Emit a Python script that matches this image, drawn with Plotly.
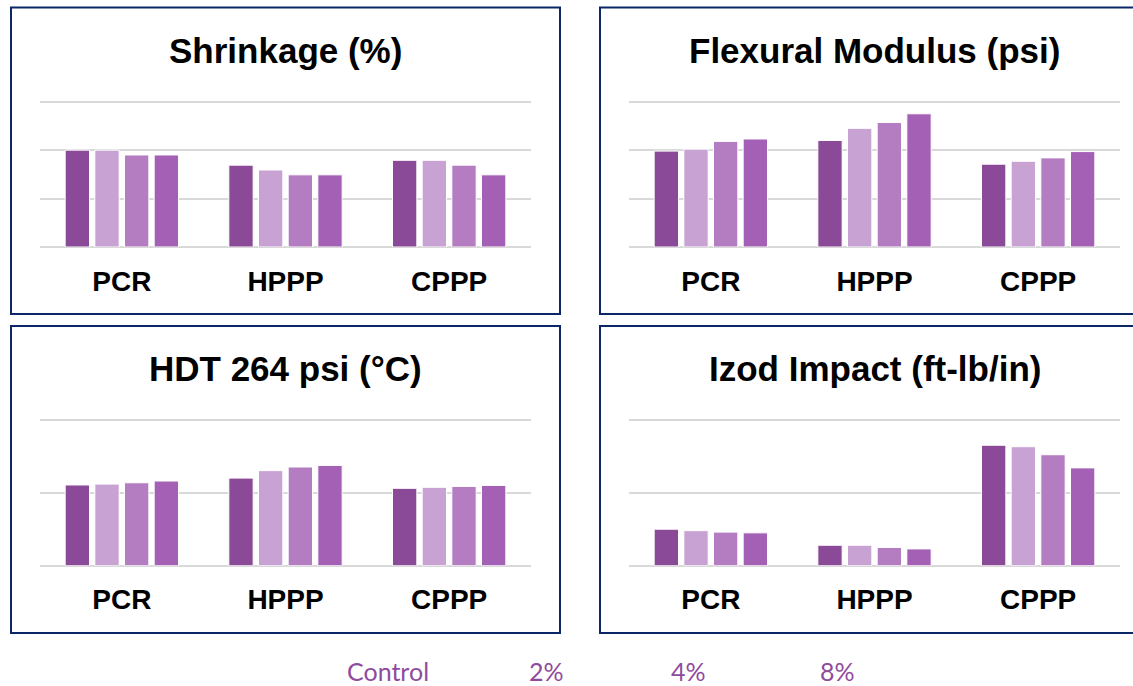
import plotly.graph_objects as go

categories = ["PCR", "HPPP", "CPPP"]
series_names = ["Control", "2%", "4%", "8%"]
series_colors = ["#8B4A98", "#C8A2D2", "#B47CC1", "#A360B5"]

panel_titles = ["Shrinkage (%)", "Flexural Modulus (psi)", "HDT 264 psi (°C)", "Izod Impact (ft-lb/in)"]

# Shrinkage (%) : series values per category
shrink_control = [1.00, 0.845, 0.895]
shrink_2 = [1.00, 0.795, 0.895]
shrink_4 = [0.95, 0.745, 0.845]
shrink_8 = [0.95, 0.745, 0.745]

# Flexural Modulus (psi)
flex_control = [198000, 220000, 171000]
flex_2 = [202000, 245000, 177000]
flex_4 = [218000, 257000, 184000]
flex_8 = [223000, 275000, 197000]

# HDT 264 psi (°C)
hdt_control = [55.3, 60.0, 53.0]
hdt_2 = [55.9, 65.1, 53.7]
hdt_4 = [56.8, 67.6, 54.3]
hdt_8 = [58.0, 68.7, 55.0]

# Izod Impact (ft-lb/in)
izod_control = [0.50, 0.28, 1.65]
izod_2 = [0.48, 0.28, 1.63]
izod_4 = [0.46, 0.25, 1.52]
izod_8 = [0.45, 0.23, 1.34]

y_ranges = [[0, 1.5], [0, 300000], [0, 100], [0, 2]]
y_dticks = [0.5, 100000, 50, 1]

panels = [
    [shrink_control, shrink_2, shrink_4, shrink_8],
    [flex_control, flex_2, flex_4, flex_8],
    [hdt_control, hdt_2, hdt_4, hdt_8],
    [izod_control, izod_2, izod_4, izod_8],
]

W, H = 1133, 686

def px(x):
    return x / W

def py(y):
    return 1 - y / H

# pixel extents of plot areas: (left, right, bottom, top-gridline)
areas = [(40, 531, 247, 101.7), (629, 1120, 247, 101.7), (40, 531, 565.7, 419.7), (629, 1120, 565.7, 419.7)]
PAD = 1.03  # headroom so the top gridline is drawn

fig = go.Figure()
FONT = "Liberation Sans, Arial, sans-serif"

for p, data in enumerate(panels):
    xa = "x" if p == 0 else f"x{p+1}"
    ya = "y" if p == 0 else f"y{p+1}"
    for s, vals in enumerate(data):
        fig.add_trace(go.Bar(
            x=categories, y=vals, name=series_names[s],
            marker=dict(color=series_colors[s], line=dict(color="#FFFFFF", width=1)),
            xaxis=xa, yaxis=ya, showlegend=False, offsetgroup=str(s),
        ))
    sfx = "" if p == 0 else str(p + 1)
    lo, hi = y_ranges[p]
    l, r, b, t = areas[p]
    top_px = b - (b - t) * PAD
    fig.layout["xaxis" + sfx] = dict(
        domain=[px(l), px(r)], anchor=ya, showgrid=False, showline=False, zeroline=False,
        ticks="outside", ticklen=9, tickcolor="rgba(0,0,0,0)",
        tickfont=dict(family=FONT, size=28, color="#000000", weight=700),
        fixedrange=True,
    )
    fig.layout["yaxis" + sfx] = dict(
        domain=[py(b), py(top_px)], anchor=xa, range=[lo, hi * PAD], dtick=y_dticks[p],
        showticklabels=False, showgrid=True, gridcolor="#D9D9D9", gridwidth=2,
        zeroline=True, zerolinecolor="#D9D9D9", zerolinewidth=2, showline=False,
        fixedrange=True,
    )

title_pos = [(285.5, 50), (874.5, 50), (285.5, 368), (874.5, 368)]
annotations = []
for t, (cx, cy) in zip(panel_titles, title_pos):
    annotations.append(dict(
        text=t, x=px(cx), y=py(cy), xref="paper", yref="paper",
        xanchor="center", yanchor="middle", showarrow=False,
        font=dict(family=FONT, size=35, color="#000000", weight=700),
    ))

legend_x = [345, 527, 669, 818]
for name, lx in zip(series_names, legend_x):
    annotations.append(dict(
        text=name, x=px(lx), y=py(671), xref="paper", yref="paper",
        xanchor="left", yanchor="middle", showarrow=False,
        font=dict(family="Lato, Open Sans, sans-serif", size=25, color="#8E4B9E"),
    ))

box_color = "#0B2768"
boxes = [(11, 7.5, 560, 314), (600, 7.5, 1140, 314), (11, 326, 560, 633), (600, 326, 1140, 633)]
shapes = []
for x0, y0, x1, y1 in boxes:
    shapes.append(dict(
        type="rect", xref="paper", yref="paper",
        x0=px(x0), x1=px(x1), y0=py(y1), y1=py(y0),
        line=dict(color=box_color, width=2), fillcolor="rgba(0,0,0,0)", layer="above",
    ))

fig.update_layout(
    width=W, height=H, margin=dict(l=0, r=0, t=0, b=0),
    paper_bgcolor="#FFFFFF", plot_bgcolor="#FFFFFF",
    barmode="group", bargap=0.275, bargroupgap=0.18,
    annotations=annotations, shapes=shapes, showlegend=False,
)

fig.write_html(
    "out.html",
    config={"displayModeBar": False},
    post_script="document.body.style.margin='0';document.body.style.overflow='hidden';",
)
